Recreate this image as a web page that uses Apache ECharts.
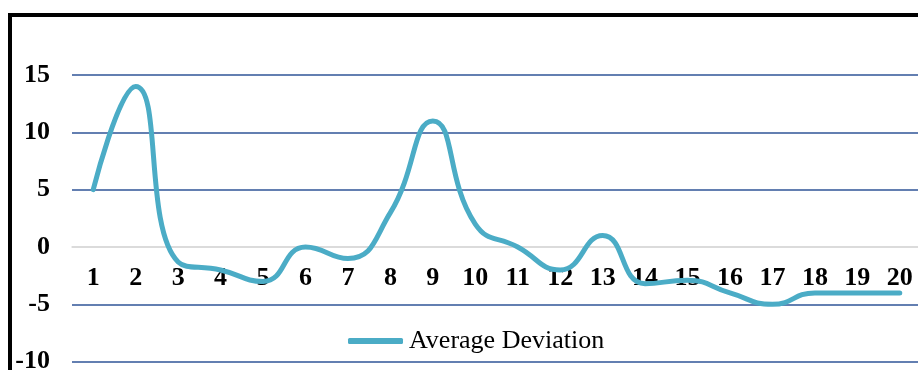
<!DOCTYPE html>
<html>
<head>
<meta charset="utf-8">
<script src="https://cdn.jsdelivr.net/npm/echarts@6/dist/echarts.min.js"></script>
<style>
html,body{margin:0;padding:0;background:#fff;}
#c{width:918px;height:370px;}
</style>
</head>
<body>
<div id="c"></div>
<script>
const categories = ['1','2','3','4','5','6','7','8','9','10','11','12','13','14','15','16','17','18','19','20'];
const averageDeviation = [5, 14, -1.3, -2, -3, 0, -1, 3, 11, 2, 0, -2, 1, -3.2, -2.9, -4, -5, -4, -4, -4];
const seriesName = 'Average Deviation';
const yMin = -10, yMax = 20, yStep = 5;

const chart = echarts.init(document.getElementById('c'), null, {renderer: 'canvas'});
const serif = '"Liberation Serif", "Times New Roman", serif';
const blue = '#2F5597';
const gridTop = 17.7, gridHeight = 344;
const zeroOffset = -gridHeight * (0 - yMin) / (yMax - yMin);
chart.setOption({
  animation: false,
  backgroundColor: '#fff',
  grid: {left: 72, top: gridTop, width: 849, height: gridHeight, containLabel: false, outerBoundsMode: 'none'},
  xAxis: {
    type: 'category',
    data: categories,
    boundaryGap: true,
    offset: zeroOffset,
    axisLine: {show: true, onZero: false, lineStyle: {color: '#D9D9D9', width: 1.5}},
    axisTick: {show: false},
    axisLabel: {color: '#000', fontFamily: serif, fontWeight: 'bold', fontSize: 26, margin: 18, interval: 0}
  },
  yAxis: {
    type: 'value',
    min: yMin, max: yMax, interval: yStep,
    axisLine: {show: false},
    axisTick: {show: false},
    axisLabel: {color: '#000', fontFamily: serif, fontWeight: 'bold', fontSize: 26, margin: 22, showMaxLabel: false,
      formatter: v => v === yMax ? '' : String(v)},
    splitLine: {show: true, showMaxLine: false, lineStyle: {color: [blue, blue, '#D9D9D9', blue, blue, blue, blue], width: 1.5}}
  },
  legend: {
    show: true,
    left: 343, top: 323,
    icon: 'roundRect',
    itemWidth: 55, itemHeight: 6,
    itemGap: 10,
    textStyle: {color: '#000', fontFamily: serif, fontSize: 26, padding: [0,0,0,1]},
    data: [seriesName]
  },
  series: [{
    name: seriesName,
    type: 'line',
    data: averageDeviation,
    smooth: 0.5,
    showSymbol: false,
    symbol: 'none',
    lineStyle: {color: '#4BACC6', width: 5, cap: 'round'},
    itemStyle: {color: '#4BACC6'}
  }],
  graphic: [{
    type: 'rect',
    z: 100,
    shape: {x: 10, y: 15, width: 1000, height: 1000},
    style: {fill: 'none', stroke: '#000', lineWidth: 4}
  }]
});
</script>
</body>
</html>
